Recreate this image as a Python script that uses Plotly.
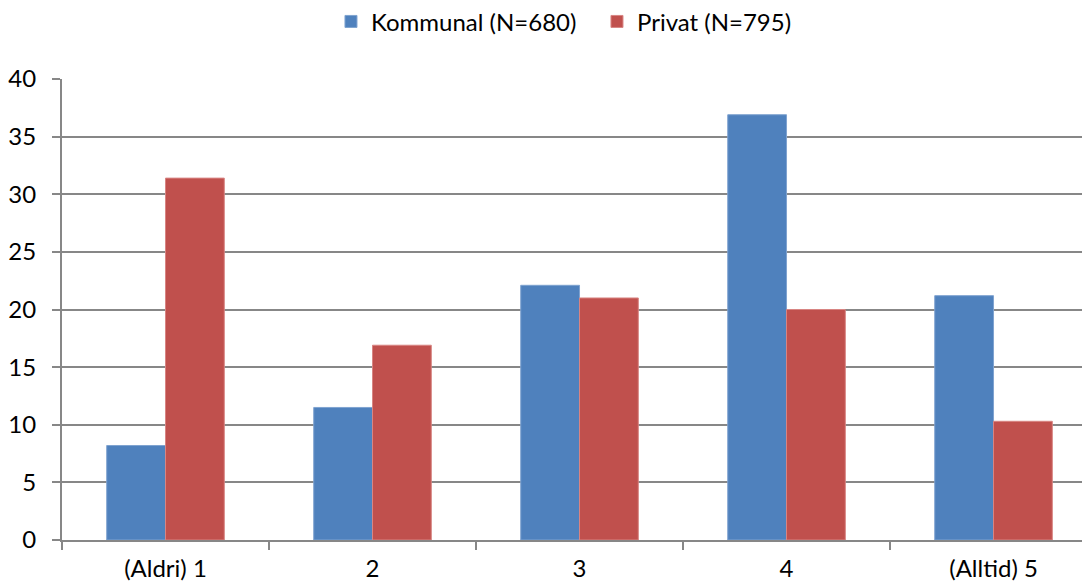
import plotly.graph_objects as go

categories = ["(Aldri) 1", "2", "3", "4", "(Alltid) 5"]
kommunal = [8.2, 11.5, 22.1, 36.9, 21.2]
privat = [31.4, 16.9, 21.0, 20.0, 10.3]
series_names = ["Kommunal (N=680)", "Privat (N=795)"]
y_ticks = [0, 5, 10, 15, 20, 25, 30, 35, 40]

FONT = "Lato, 'Open Sans', sans-serif"
GRID = "#878787"
FS = 24

fig = go.Figure()
fig.add_trace(go.Bar(x=categories, y=kommunal, name=series_names[0],
                     marker=dict(color="#4F81BD", line=dict(color="#7FA3D0", width=1))))
fig.add_trace(go.Bar(x=categories, y=privat, name=series_names[1],
                     marker=dict(color="#C0504D", line=dict(color="#D88583", width=1))))

# page body has an 8px default margin, so the figure is sized to 1082x577
fig.update_layout(
    width=1082, height=577,
    margin=dict(l=54, r=0, t=71, b=45),
    paper_bgcolor="white", plot_bgcolor="white",
    barmode="group", bargap=0.432, bargroupgap=0,
    font=dict(family=FONT, size=FS, color="#000000"),
    legend=dict(orientation="h", xref="container", x=0.2985, xanchor="left",
                yref="container", y=0.976, yanchor="middle",
                font=dict(size=FS), itemwidth=30,
                entrywidth=221, entrywidthmode="pixels",
                traceorder="normal"),
    showlegend=True,
)
fig.update_xaxes(
    type="category", range=[-0.5, 4.466],
    showline=True, linecolor=GRID, linewidth=2,
    ticks="outside", tickson="boundaries", ticklen=8, tickcolor=GRID, tickwidth=2,
    showgrid=False, ticklabelstandoff=6,
    tickfont=dict(size=FS, family=FONT),
)
fig.update_yaxes(
    range=[0, 40], tickvals=y_ticks,
    showline=True, linecolor=GRID, linewidth=2,
    ticks="outside", ticklen=8, tickcolor=GRID, tickwidth=2,
    showgrid=True, gridcolor=GRID, gridwidth=2, zeroline=False,
    ticklabelstandoff=11,
    tickfont=dict(size=FS, family=FONT),
)

fig.write_html("out.html")
